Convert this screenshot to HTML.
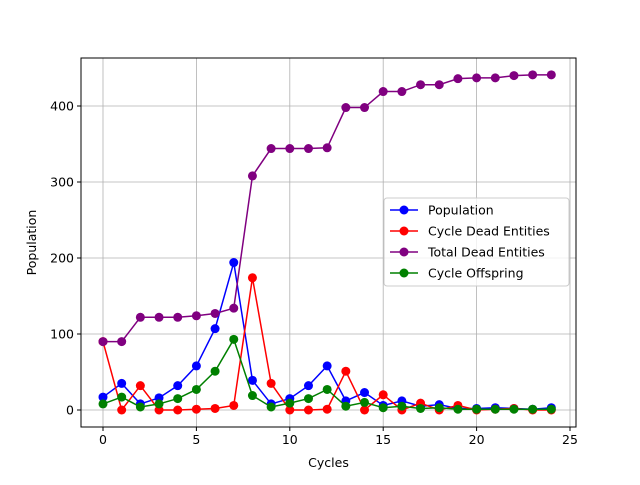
<!DOCTYPE html>
<html><head><meta charset="utf-8"><style>
body{margin:0;background:#fff;font-family:"Liberation Sans","DejaVu Sans",sans-serif}
svg text{font-family:"DejaVu Sans","Liberation Sans",sans-serif;font-size:12.5px;fill:#000}
</style></head><body>
<svg id="chart" width="640" height="480">
<g id="grid"></g><g id="series"></g><g id="axes"></g><g id="legend"></g>
</svg>
<script>
const cycles=[0,1,2,3,4,5,6,7,8,9,10,11,12,13,14,15,16,17,18,19,20,21,22,23,24];
const population=[17,35,8,16,32,58,107,194,39,8,15,32,58,12,23,6,12,5,7,2,2,3,2,1,3];
const cycleDead=[90,0,32,0,0,1,2,6,174,35,0,0,1,51,0,20,0,9,0,6,0,1,2,0,0];
const totalDead=[90,90,122,122,122,124,127,134,308,344,344,344,345,398,398,419,419,428,428,436,437,437,440,441,441];
const offspring=[8,17,4,8,15,27,51,93,19,4,9,15,27,5,10,3,5,2,3,1,1,1,1,1,1];
const xTicks=[0,5,10,15,20,25];
const yTicks=[0,100,200,300,400];
const seriesNames=["Population","Cycle Dead Entities","Total Dead Entities","Cycle Offspring"];
const L=81,R=576,T=58,B=427;
const xs=v=>103+v*(570-103)/25;
const ys=v=>410-v*0.76;
const NS="http://www.w3.org/2000/svg";
function mk(p,t,a){const e=document.createElementNS(NS,t);for(const k in a)e.setAttribute(k,a[k]);p.appendChild(e);return e;}
const g=document.getElementById('grid'),s=document.getElementById('series'),ax=document.getElementById('axes'),lg=document.getElementById('legend');
xTicks.forEach(t=>{const x=xs(t);
const l=mk(g,'line',{x1:x,x2:x,y1:T,y2:B,stroke:'#b0b0b0','stroke-width':0.8});


mk(ax,'line',{x1:x,x2:x,y1:B,y2:B+4,stroke:'#000'});
const tx=mk(ax,'text',{x:x,y:B+17,'text-anchor':'middle'});tx.textContent=t;

});
yTicks.forEach(t=>{const y=ys(t);
const l=mk(g,'line',{x1:L,x2:R,y1:y,y2:y,stroke:'#b0b0b0','stroke-width':0.8});


mk(ax,'line',{x1:L-4,x2:L,y1:y,y2:y,stroke:'#000'});
const tx=mk(ax,'text',{x:L-7,y:y+4.5,'text-anchor':'end'});tx.textContent=t;

});
const frame=mk(ax,'rect',{x:L,y:T,width:R-L,height:B-T,fill:'none',stroke:'#000','stroke-width':1});


const xl=mk(ax,'text',{x:(L+R)/2,y:467,'text-anchor':'middle'});xl.textContent='Cycles';


const yl=mk(ax,'text',{x:0,y:0,'text-anchor':'middle',transform:`translate(36,${(T+B)/2}) rotate(-90)`});yl.textContent='Population';


const all=[population,cycleDead,totalDead,offspring];
const colors=['#0000ff','#ff0000','#800080','#008000'];
const order=[0,1,2,3];
order.forEach(i=>{const d=all[i];
const gr=mk(s,'g',{});


mk(gr,'polyline',{points:d.map((v,j)=>xs(cycles[j])+','+ys(v)).join(' '),fill:'none',stroke:colors[i],'stroke-width':1.5});
d.forEach((v,j)=>{const c=mk(gr,'circle',{cx:xs(cycles[j]),cy:ys(v),r:4.5,fill:colors[i]});

});});
const box=mk(lg,'rect',{x:384,y:198,width:185,height:88,rx:3,fill:'#fff','fill-opacity':0.8,stroke:'#ccc'});


seriesNames.forEach((n,i)=>{const y=210+i*21;
const e=mk(lg,'g',{});


mk(e,'line',{x1:390,x2:418,y1:y,y2:y,stroke:colors[i],'stroke-width':1.5});
mk(e,'circle',{cx:404,cy:y,r:4.5,fill:colors[i]});
const t=mk(e,'text',{x:428,y:y+4.5});t.textContent=n;});
</script>
</body></html>
